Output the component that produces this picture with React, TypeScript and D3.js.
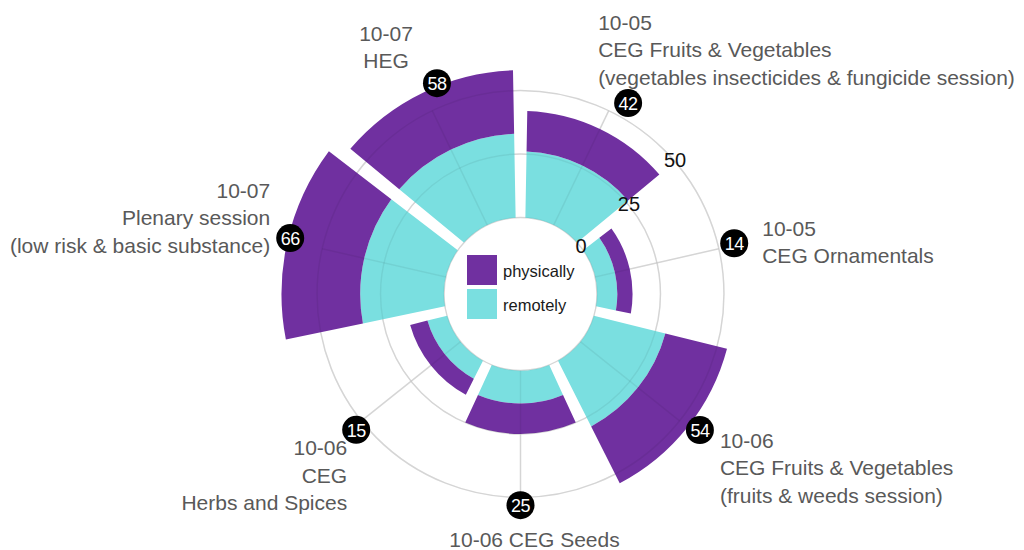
import * as d3 from 'd3'

// sessions, clockwise from 12 o'clock
const sessions = [
  'CEG F&V vegetables',
  'CEG Ornamentals',
  'CEG F&V fruits',
  'CEG Seeds',
  'CEG Herbs',
  'Plenary',
  'HEG',
]
const remotely = [26, 8, 29, 13, 8, 33, 33]
const physically = [16, 6, 25, 12, 7, 33, 25]
const radialTicks = [0, 25, 50]

const labelLines = [
  ['10-05', 'CEG Fruits & Vegetables', '(vegetables insecticides & fungicide session)'],
  ['10-05', 'CEG Ornamentals'],
  ['10-06', 'CEG Fruits & Vegetables', '(fruits & weeds session)'],
  ['10-06 CEG Seeds'],
  ['10-06', 'CEG', 'Herbs and Spices'],
  ['10-07', 'Plenary session', '(low risk & basic substance)'],
  ['10-07', 'HEG'],
]

// bubble nudge (degrees, px) and label placement relative to the bubble
const bubbleNudge: [number, number][] = [
  [3.7, 3],
  [-0.5, 3.5],
  [-1.4, 9],
  [0, -5],
  [-1, -3],
  [0.8, -2],
  [4.1, 3],
]
const labelPos: [number, number, string][] = [
  [-30, -81, 'start'],
  [28, -15, 'start'],
  [20, 10, 'start'],
  [14, 34, 'middle'],
  [-9, 18, 'end'],
  [-20, -48, 'end'],
  [-51, -50, 'middle'],
]

const PURPLE = '#7030a0'
const CYAN = '#7adfe0'
const GRID = '#e3e3e3'
const FONT = 'Liberation Sans, Arial, sans-serif'

export default function App() {
  const width = 1024
  const height = 550
  const cx = 520.5
  const cy = 294
  const innerR = 76.5

  const x = d3
    .scaleBand()
    .domain(sessions)
    .range([0, 2 * Math.PI])
    .paddingInner(0.04)
    .paddingOuter(0.02)

  const y = d3.scaleLinear().domain([0, 64]).range([innerR, 239]).clamp(true)

  const arc = d3.arc<any>().padAngle(0.07).padRadius(100)

  const totals = sessions.map((_, i) => remotely[i] + physically[i])
  const mid = (s: string) => (x(s) as number) + x.bandwidth() / 2
  const pt = (a: number, r: number) => [Math.sin(a) * r, -Math.cos(a) * r]

  const bars = sessions.flatMap((s, i) => {
    const a0 = x(s) as number
    const a1 = a0 + x.bandwidth()
    return [
      { key: s + 'r', fill: CYAN, d: arc({ innerRadius: y(0), outerRadius: y(remotely[i]), startAngle: a0, endAngle: a1 }) },
      { key: s + 'p', fill: PURPLE, d: arc({ innerRadius: y(remotely[i]), outerRadius: y(totals[i]), startAngle: a0, endAngle: a1 }) },
    ]
  })

  const gridLines = (stroke: string, opacity: number) => (
    <g stroke={stroke} strokeOpacity={opacity} strokeWidth={1.5} fill="none">
      {radialTicks.map((t) => (
        <circle key={t} r={y(t)} />
      ))}
      {sessions.map((s) => {
        const [x0, y0] = pt(mid(s), y(0))
        const [x1, y1] = pt(mid(s), y(50))
        return <line key={s} x1={x0} y1={y0} x2={x1} y2={y1} />
      })}
    </g>
  )

  const tickAngle = (2 * Math.PI) / sessions.length

  return (
    <svg width={width} height={height} style={{ position: 'absolute', left: 0, top: 0, background: '#fff' }} fontFamily={FONT}>
      <g transform={`translate(${cx},${cy})`}>
        {gridLines(GRID, 1)}
        {bars.map((b) => (
          <path key={b.key} d={b.d as string} fill={b.fill} />
        ))}
        {gridLines('#000', 0.06)}

        {radialTicks.map((t, i) => {
          const [tx, ty] = pt(tickAngle - i * 0.02, y(t) + 1)
          return (
            <text key={t} x={tx} y={ty} fontSize={20} fill="#111" textAnchor="middle" dominantBaseline="central">
              {t}
            </text>
          )
        })}

        {sessions.map((s, i) => {
          const [na, nr] = bubbleNudge[i]
          const [bx, by] = pt(mid(s) + (na * Math.PI) / 180, y(Math.max(totals[i], 55)) + nr)
          const [dx, dy, anchor] = labelPos[i]
          return (
            <g key={s}>
              <circle cx={bx} cy={by} r={14} fill="#000" />
              <text x={bx} y={by + 1} fill="#fff" fontSize={18} textAnchor="middle" dominantBaseline="central" letterSpacing={-0.5}>
                {totals[i]}
              </text>
              {labelLines[i].map((line, j) => (
                <text
                  key={j}
                  x={bx + dx}
                  y={by + dy + j * 27.5}
                  fill="#595959"
                  fontSize={21}
                  textAnchor={anchor}
                  dominantBaseline="central"
                >
                  {line}
                </text>
              ))}
            </g>
          )
        })}

        {/* legend in the hole */}
        <g transform="translate(-53.5,-39)">
          {[
            ['physically', PURPLE],
            ['remotely', CYAN],
          ].map(([name, col], i) => (
            <g key={name} transform={`translate(0,${i * 34})`}>
              <rect width={30} height={30} fill={col} />
              <text x={36} y={16} fontSize={16.5} fill="#1a1a1a" dominantBaseline="central">
                {name}
              </text>
            </g>
          ))}
        </g>
      </g>
    </svg>
  )
}
